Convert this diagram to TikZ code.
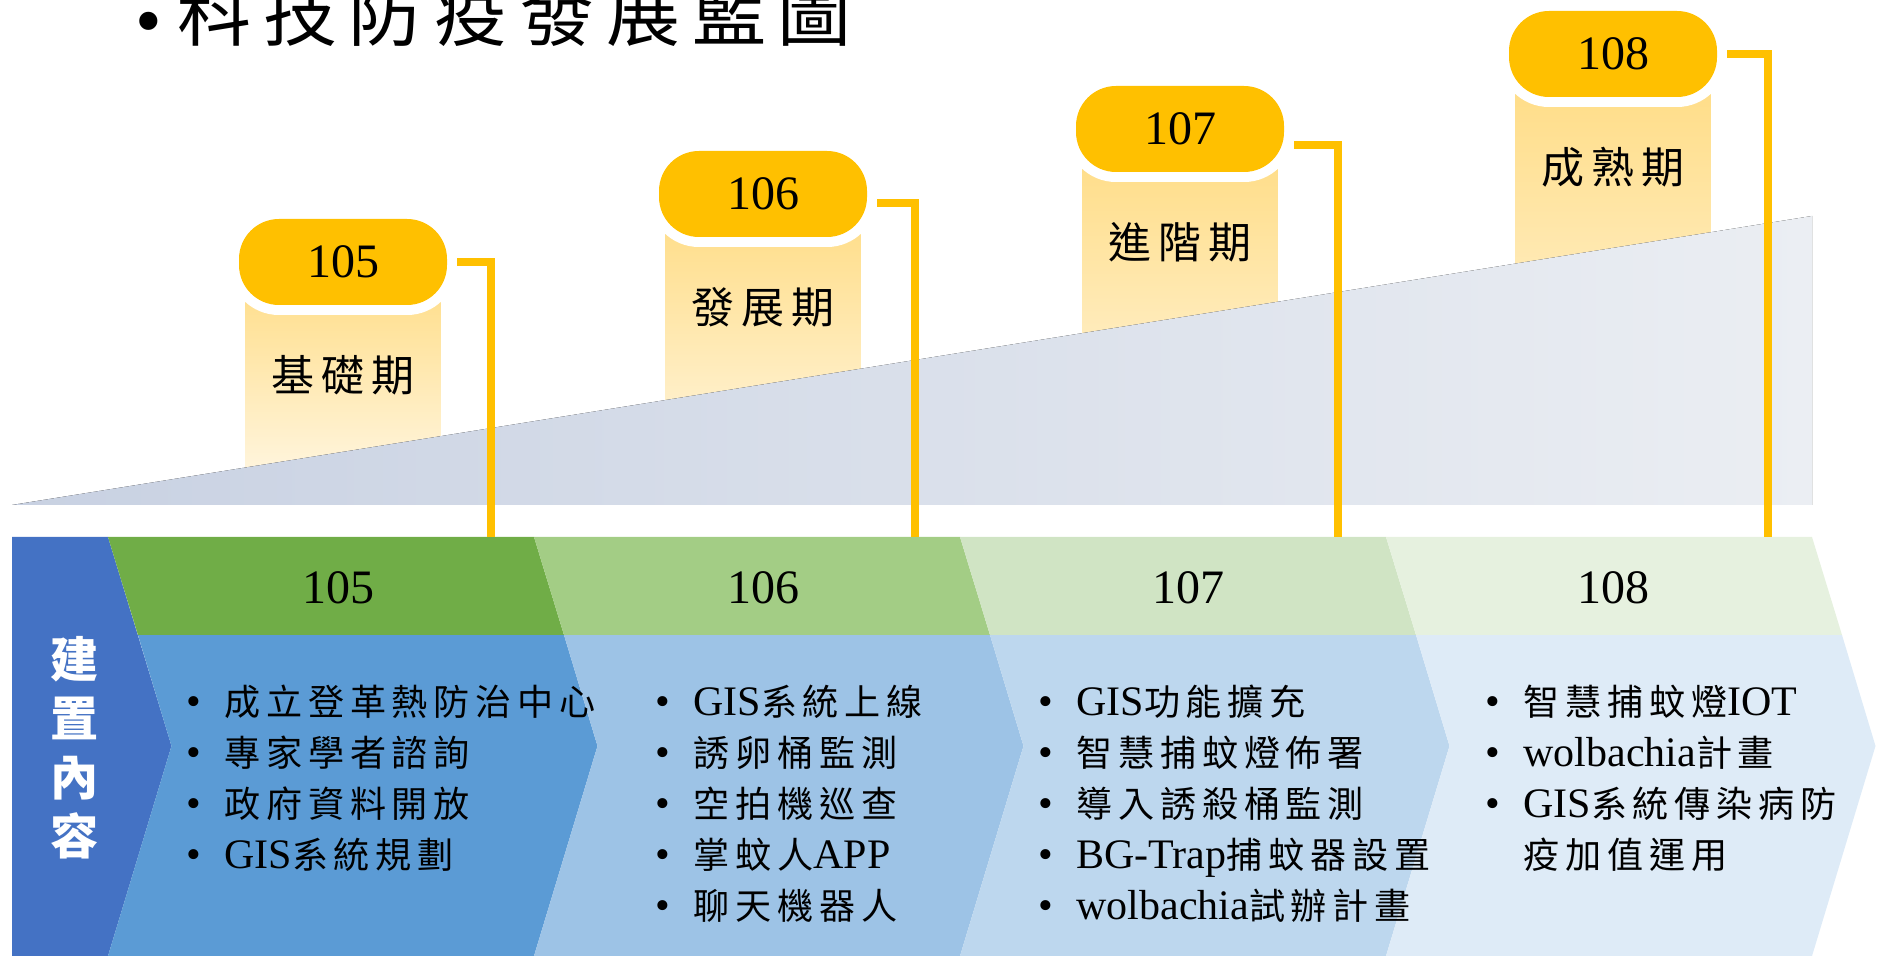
\documentclass[tikz,border=0pt]{standalone}
\usepackage{fontspec}
\setmainfont{Liberation Serif}
\newfontfamily\cjk[Scale=0.86,LetterSpace=16]{Noto Sans CJK TC}
\definecolor{gold}{HTML}{FFC000}
\definecolor{glowtop}{HTML}{FFDB80}
\definecolor{glowbot}{HTML}{FFF9EC}
\definecolor{slateL}{HTML}{C8D1E2}
\definecolor{slateR}{HTML}{EBEEF3}
\definecolor{sideblue}{HTML}{4472C4}
\definecolor{hd1}{HTML}{70AD47}
\definecolor{hd2}{HTML}{A3CD85}
\definecolor{hd3}{HTML}{D0E4C4}
\definecolor{hd4}{HTML}{E6F1DF}
\definecolor{bd1}{HTML}{5B9BD5}
\definecolor{bd2}{HTML}{9DC3E6}
\definecolor{bd3}{HTML}{BDD7EE}
\definecolor{bd4}{HTML}{DEEBF7}
\newcommand\en[1]{{\rmfamily #1}}
\newcommand\bl{\makebox[19pt][l]{\rmfamily\textbullet}}
\newcommand\nobl{\hspace*{19pt}}
\begin{document}
\begin{tikzpicture}[x=0.5pt,y=-0.5pt,
    pill/.style={rounded corners=20pt, minimum width=104pt, minimum height=43pt,
      inner sep=0pt, fill=gold, font=\fontsize{24}{28}\selectfont,
      preaction={draw=white, line width=10pt}},
    phase/.style={inner sep=0pt, font=\fontsize{25}{30}\selectfont\cjk},
    year/.style={inner sep=0pt, font=\fontsize{24}{28}\selectfont},
    item/.style={anchor=base west, inner sep=0pt, font=\fontsize{21}{25}\selectfont\cjk},
    link/.style={gold, line width=4pt}]
  \useasboundingbox (0,0) rectangle (1878,956);
  % title
  \node[anchor=base west, inner sep=0pt, font=\fontsize{43}{50}\selectfont] (ttl) at (135,41)
    {\makebox[21pt][l]{\raisebox{-3pt}{\fontsize{38}{40}\selectfont\textbullet}}{\cjk 科技防疫發展藍圖}};
  % phase boxes and slope
  \foreach \x/\y in {343/262, 763/194, 1180/129, 1613/54}
    \fill[top color=glowtop, bottom color=glowbot] (\x-97.5,\y) rectangle (\x+97.5,505);
  \fill[left color=slateL, right color=slateR] (12,505) -- (1812,216) -- (1812,505) -- cycle;
  \foreach \yr/\x/\y/\ph in {105/343/262/基礎期, 106/763/194/發展期, 107/1180/129/進階期, 108/1613/54/成熟期} {
    \node[pill] (p\yr) at (\x,\y) {\yr};
    \node[phase] (s\yr) at (\x,\y+113) {\ph};
  }
  % chevron band
  \fill[sideblue] (12,537) -- (108,537) -- (171.5,746) -- (108,956) -- (12,956) -- cycle;
  \foreach \i/\hc/\bc in {0/hd1/bd1, 1/hd2/bd2, 2/hd3/bd3, 3/hd4/bd4} {
    \pgfmathsetmacro\l{108+426*\i}
    \fill[\hc] (\l,537) -- ++(426,0) -- ++(30,98) -- ++(-426,0) -- cycle;
    \fill[\bc] (\l+30,635) -- ++(426,0) -- (\l+489.5,746) -- (\l+426,956)
      -- (\l,956) -- (\l+63.5,746) -- cycle;
  }
  \node[align=center, text=white, inner sep=0pt,
    font=\fontsize{28}{29.5}\selectfont\cjk\bfseries] (side) at (75,748) {建\\置\\內\\容};
  \foreach \yr/\x in {105/338, 106/763, 107/1188, 108/1613}
    \node[year] (h\yr) at (\x,588) {\yr};
  % connectors
  \foreach \yr/\x/\dy in {105/491/0, 106/915/-4.5, 107/1338/-8, 108/1768/0} {
    \coordinate (c\yr) at (\x,537);
    \draw[link] ([xshift=5pt,yshift=\dy pt]p\yr.east) -| (c\yr);
  }
  % items
  \foreach \col/\x/\list in {
      105/186/{{\bl 成立登革熱防治中心},{\bl 專家學者諮詢},{\bl 政府資料開放},{\bl \en{GIS}系統規劃}},
      106/655/{{\bl \en{GIS}系統上線},{\bl 誘卵桶監測},{\bl 空拍機巡查},{\bl 掌蚊人\en{APP}},{\bl 聊天機器人}},
      107/1038/{{\bl \en{GIS}功能擴充},{\bl 智慧捕蚊燈佈署},{\bl 導入誘殺桶監測},{\bl \en{BG-Trap}捕蚊器設置},{\bl \en{wolbachia}試辦計畫}},
      108/1485/{{\bl 智慧捕蚊燈\en{IOT}},{\bl \en{wolbachia}計畫},{\bl \en{GIS}系統傳染病防},{\nobl 疫加值運用}}}
    \foreach \t [count=\i] in \list
      \node[item] (t\col-\i) at (\x,664+51*\i) {\t};
\end{tikzpicture}
\end{document}
